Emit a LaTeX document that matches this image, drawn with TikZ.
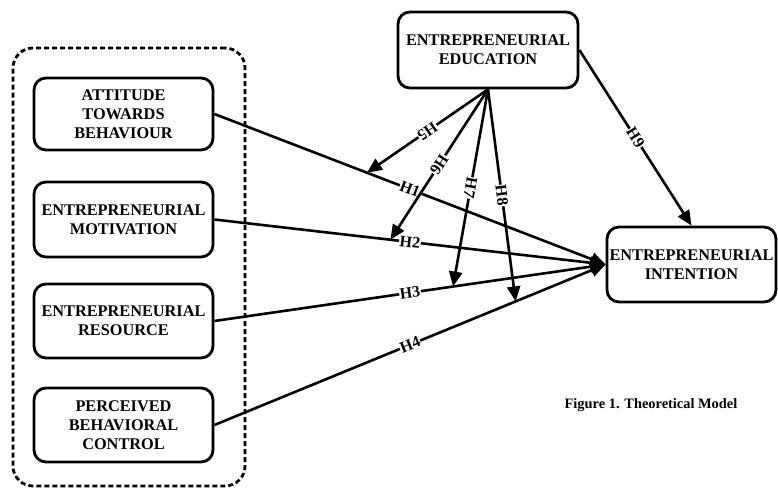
\documentclass[tikz,border=0pt]{standalone}
\usepackage{fontspec}
\setmainfont{Liberation Serif}
\usetikzlibrary{arrows.meta,calc}
\begin{document}
\begin{tikzpicture}[x=1pt,y=-1pt,
  box/.style={draw,line width=2.8pt,rounded corners=12pt,align=center,
    font=\fontsize{16.3}{19}\selectfont\bfseries,inner sep=0pt},
  grp/.style={draw,line width=2.8pt,dash pattern=on 5pt off 3pt,rounded corners=20pt,inner sep=0pt},
  conn/.style={line width=2.6pt,-{Triangle[length=15pt,width=13pt]}},
  hlab/.style={fill=white,font=\fontsize{16}{16}\selectfont\bfseries,inner sep=0.6pt,
    sloped,allow upside down,midway}]
\useasboundingbox (0,0) rectangle (778,489);
\node[grp,minimum width=232pt,minimum height=438pt] (grp) at (129,267) {};
\node[box,minimum width=179pt,minimum height=72pt] (att) at (123.5,114) {ATTITUDE\\TOWARDS\\BEHAVIOUR};
\node[box,minimum width=179pt,minimum height=75pt] (mot) at (123.5,219.5) {ENTREPRENEURIAL\\MOTIVATION};
\node[box,minimum width=179pt,minimum height=74pt] (res) at (123.5,321) {ENTREPRENEURIAL\\RESOURCE};
\node[box,minimum width=179pt,minimum height=74pt] (per) at (123.5,425) {PERCEIVED\\BEHAVIORAL\\CONTROL};
\node[box,minimum width=180pt,minimum height=76pt] (edu) at (488,50) {ENTREPRENEURIAL\\EDUCATION};
\node[box,minimum width=169pt,minimum height=75pt] (int) at (691.5,264.5) {ENTREPRENEURIAL\\INTENTION};
\node[font=\fontsize{14.4}{16}\selectfont\bfseries] (cap) at (651,405) {Figure 1. Theoretical Model};
\coordinate (p5) at ($(att.east)!0.39!(int.west)$);
\coordinate (p6) at ($(mot.east)!0.45!(int.west)$);
\coordinate (p7) at ($(res.east)!0.61!(int.west)$);
\coordinate (p8) at ($(per.east)!0.77!(int.west)$);
\draw[conn] (att.east) -- node[hlab]{H1} (int.west);
\draw[conn] (mot.east) -- node[hlab]{H2} (int.west);
\draw[conn] (res.east) -- node[hlab]{H3} (int.west);
\draw[conn] (per.east) -- node[hlab]{H4} (int.west);
\draw[conn] (edu.south) -- node[hlab]{H5} (p5);
\draw[conn] (edu.south) -- node[hlab]{H6} (p6);
\draw[conn] (edu.south) -- node[hlab]{H7} (p7);
\draw[conn] (edu.south) -- node[hlab]{H8} (p8);
\draw[conn] (edu.east) -- node[hlab]{H9} (int.north);
\end{tikzpicture}
\end{document}
